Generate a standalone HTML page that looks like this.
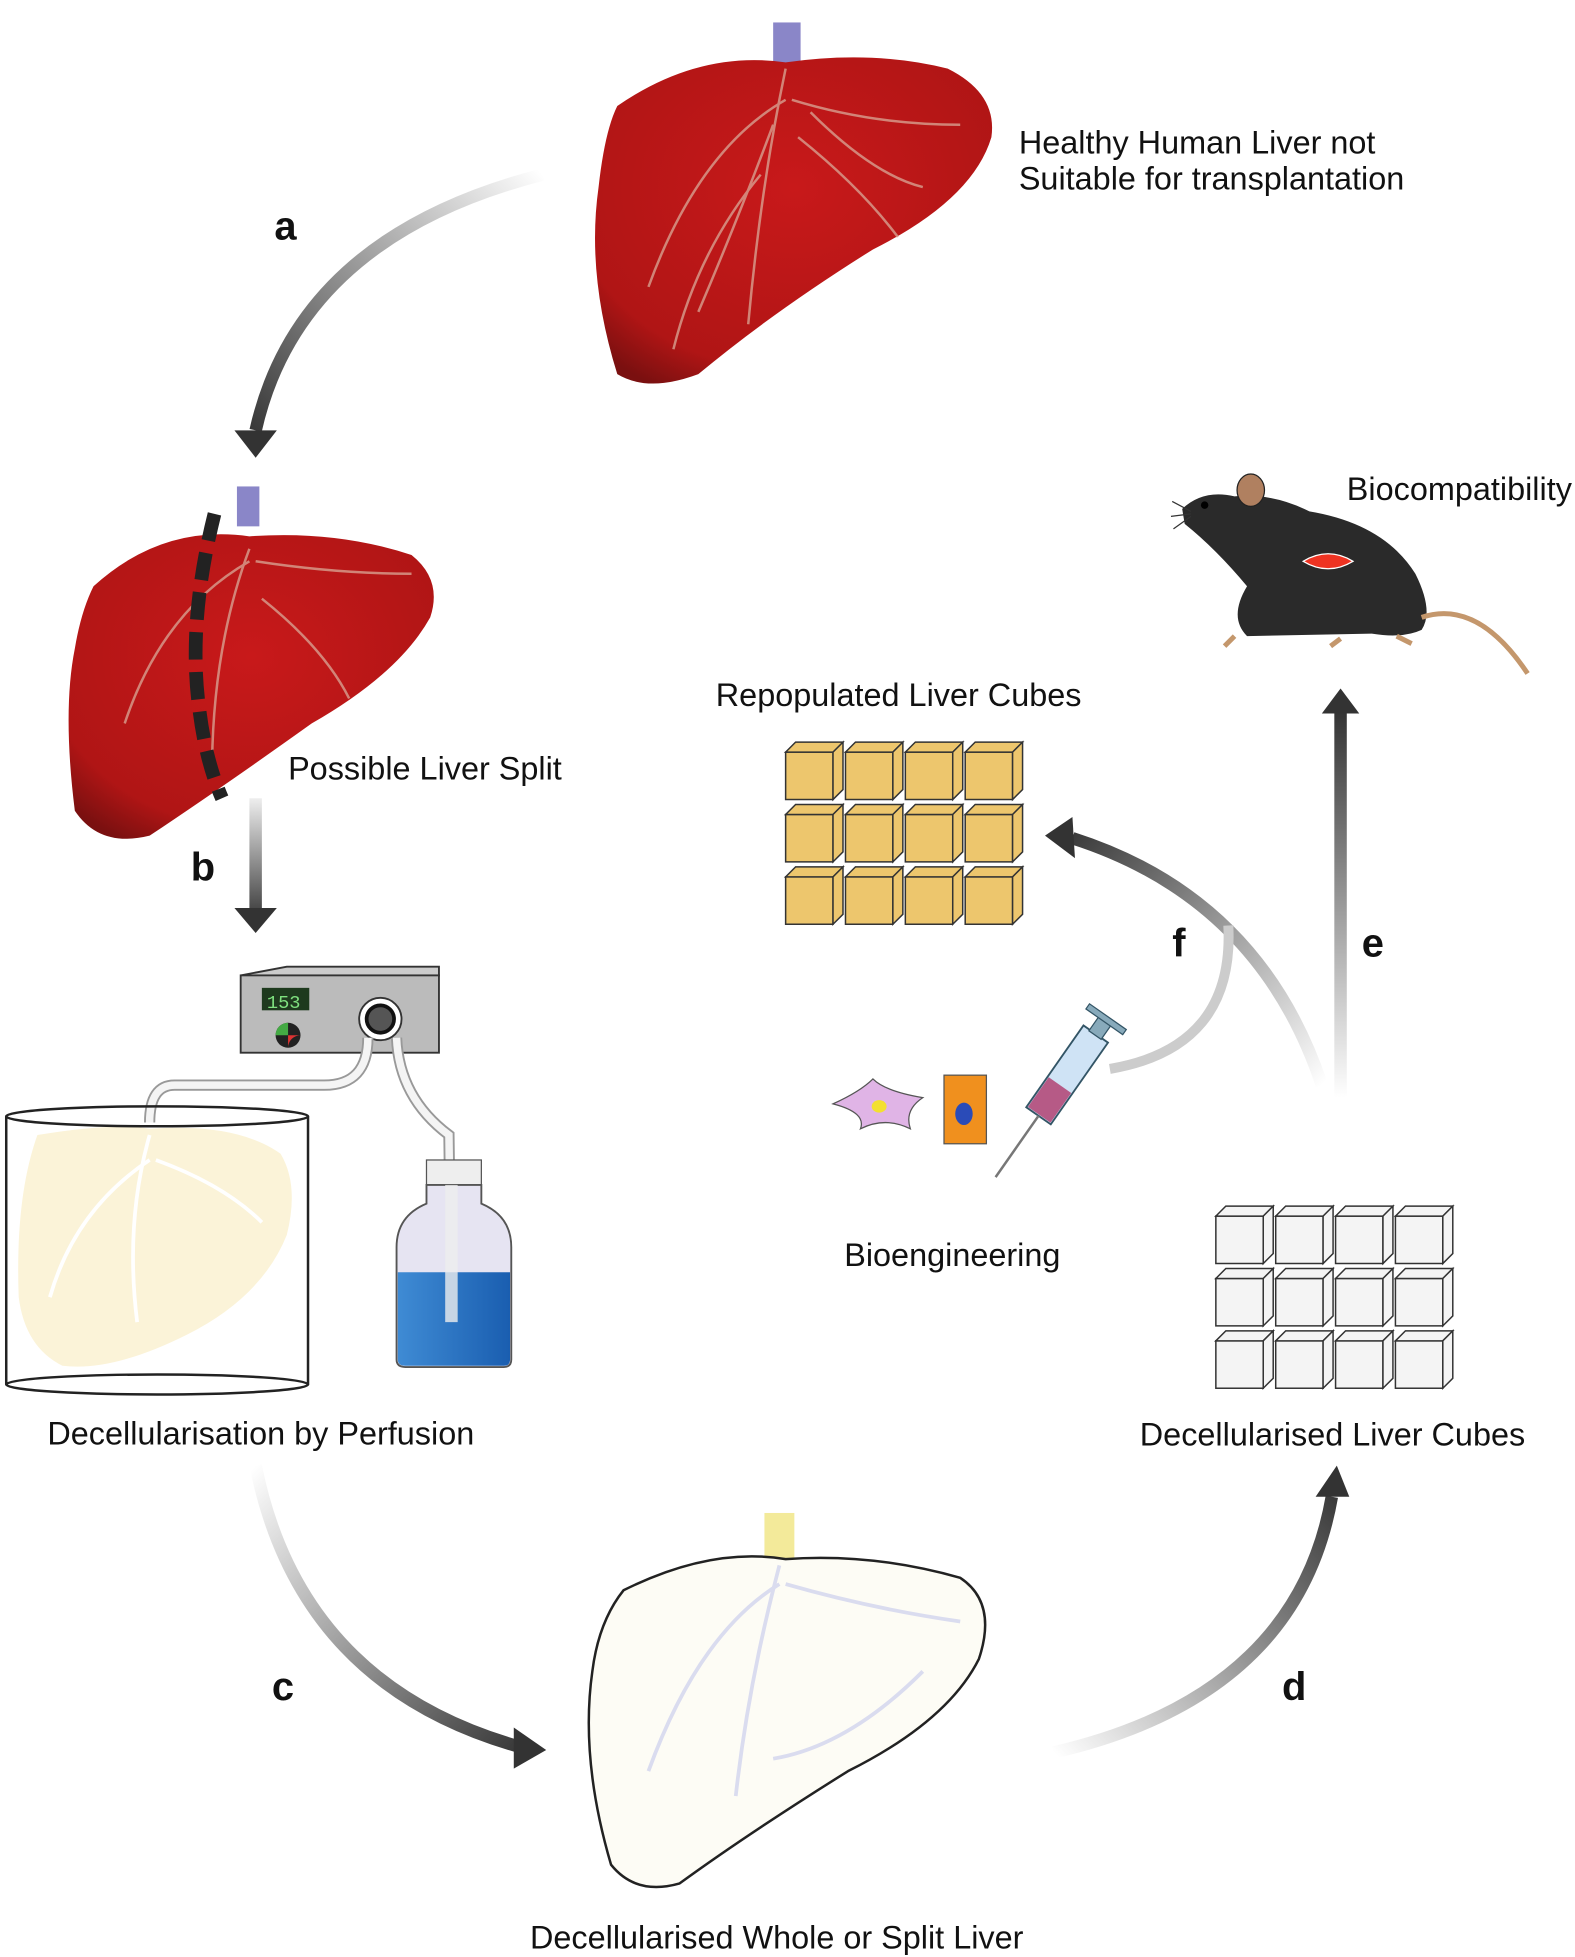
<!DOCTYPE html>
<html><head><style>
html,body{margin:0;padding:0;background:#fff;}
svg{display:block;}
text{font-family:"Liberation Sans",sans-serif;fill:#111;}
.l{font-size:26px;}
.b{font-size:32px;font-weight:bold;}
</style></head><body>
<svg width="1575" height="1957" viewBox="0 0 1263 1569" preserveAspectRatio="none" xmlns="http://www.w3.org/2000/svg">
<defs>
<linearGradient id="ga" x1="435" y1="140" x2="205" y2="360" gradientUnits="userSpaceOnUse"><stop offset="0" stop-color="#fff"/><stop offset="1" stop-color="#333"/></linearGradient>
<linearGradient id="gb" x1="0" y1="640" x2="0" y2="740" gradientUnits="userSpaceOnUse"><stop offset="0" stop-color="#eee"/><stop offset="1" stop-color="#333"/></linearGradient>
<linearGradient id="gc" x1="205" y1="1175" x2="430" y2="1400" gradientUnits="userSpaceOnUse"><stop offset="0" stop-color="#fff"/><stop offset="1" stop-color="#333"/></linearGradient>
<linearGradient id="gd" x1="845" y1="1405" x2="1070" y2="1185" gradientUnits="userSpaceOnUse"><stop offset="0" stop-color="#fff"/><stop offset="1" stop-color="#333"/></linearGradient>
<linearGradient id="ge" x1="0" y1="880" x2="0" y2="570" gradientUnits="userSpaceOnUse"><stop offset="0" stop-color="#fff"/><stop offset="1" stop-color="#333"/></linearGradient>
<linearGradient id="gf" x1="1060" y1="870" x2="850" y2="665" gradientUnits="userSpaceOnUse"><stop offset="0" stop-color="#fff"/><stop offset="1" stop-color="#333"/></linearGradient>
<radialGradient id="red" cx="0.5" cy="0.4" r="0.7"><stop offset="0" stop-color="#c8191a"/><stop offset="0.8" stop-color="#b01515"/><stop offset="1" stop-color="#7a1010"/></radialGradient>
<linearGradient id="blue" x1="0" y1="0" x2="1" y2="0"><stop offset="0" stop-color="#3f8bd4"/><stop offset="1" stop-color="#1a5eb0"/></linearGradient>
</defs>

<!-- top liver -->
<rect x="620" y="18" width="22" height="36" fill="#8a86c8"/>
<path d="M495 85 Q560 40 630 50 Q700 40 760 55 Q800 75 795 110 Q780 160 700 200 Q620 250 560 300 Q520 315 495 300 Q470 220 480 150 Q485 105 495 85Z" fill="url(#red)"/>
<g stroke="#d8a090" stroke-width="2" fill="none" opacity="0.8">
<path d="M630 55 Q610 150 600 260"/><path d="M630 80 Q560 120 520 230"/><path d="M635 80 Q700 100 770 100"/><path d="M610 140 Q560 200 540 280"/><path d="M640 110 Q690 150 720 190"/><path d="M620 100 Q590 180 560 250"/><path d="M650 90 Q700 140 740 150"/>
</g>
<text class="l" x="817" y="123">Healthy Human Liver not</text>
<text class="l" x="817" y="152">Suitable for transplantation</text>

<!-- arrow a -->
<path d="M435 140 Q240 190 205 345" stroke="url(#ga)" stroke-width="10" fill="none"/>
<polygon points="188,345 222,345 205,367" fill="#333"/>
<text class="b" x="220" y="192">a</text>

<!-- second liver -->
<rect x="190" y="390" width="18" height="32" fill="#8a86c8"/>
<path d="M75 470 Q130 420 200 430 Q270 425 330 445 Q355 465 345 495 Q320 540 250 580 Q180 630 120 670 Q80 680 60 650 Q50 570 60 520 Q65 490 75 470Z" fill="url(#red)"/>
<g stroke="#d8a090" stroke-width="2" fill="none" opacity="0.8">
<path d="M200 440 Q170 520 170 620"/><path d="M200 450 Q130 490 100 580"/><path d="M205 450 Q270 460 330 460"/><path d="M210 480 Q260 520 280 560"/>
</g>
<path d="M172 412 Q150 500 160 570 Q165 610 178 640" stroke="#222" stroke-width="11" stroke-dasharray="22 10" fill="none"/>
<text class="l" x="231" y="625">Possible Liver Split</text>

<!-- arrow b -->
<rect x="200" y="640" width="10" height="88" fill="url(#gb)"/>
<polygon points="188,728 222,728 205,748" fill="#333"/>
<text class="b" x="153" y="706">b</text>

<!-- pump -->
<polygon points="193,782 230,775 352,775 352,782" fill="#ccc" stroke="#333" stroke-width="1.5"/>
<rect x="193" y="782" width="159" height="62" fill="#bbb" stroke="#333" stroke-width="1.5"/>
<rect x="210" y="792" width="38" height="18" fill="#1e3a1e"/>
<text x="214" y="808" style="font-size:15px;fill:#7fe07f;font-family:'Liberation Mono',monospace">153</text>
<circle cx="231" cy="830" r="10" fill="#222"/>
<path d="M231 830 L221 830 A10 10 0 0 1 231 820Z" fill="#4a4"/><path d="M231 830 L241 830 A10 10 0 0 0 231 840Z" fill="#d33"/>
<circle cx="305" cy="817" r="17" fill="#fff" stroke="#333" stroke-width="1.5"/>
<circle cx="305" cy="817" r="11" fill="#555" stroke="#111" stroke-width="3"/>
<path d="M295 832 Q295 870 260 870 L140 870 Q120 870 120 900" stroke="#999" stroke-width="9" fill="none"/>
<path d="M295 832 Q295 870 260 870 L140 870 Q120 870 120 900" stroke="#f4f4f4" stroke-width="6" fill="none"/>
<path d="M318 832 Q320 880 360 910 L362 1060" stroke="#999" stroke-width="9" fill="none"/>
<path d="M318 832 Q320 880 360 910 L362 1060" stroke="#f4f4f4" stroke-width="6" fill="none"/>

<!-- beaker -->
<path d="M30 910 Q90 900 120 905 Q190 900 225 925 Q240 950 230 990 Q210 1040 150 1070 Q90 1100 50 1095 Q20 1080 15 1040 Q12 960 30 910Z" fill="#fbf3d8"/>
<g stroke="#fff" stroke-width="3" fill="none"><path d="M120 910 Q100 980 110 1060"/><path d="M120 930 Q60 970 40 1040"/><path d="M125 930 Q180 950 210 980"/></g>
<path d="M5 895 L5 1110 M247 895 L247 1110" stroke="#222" stroke-width="2"/>
<ellipse cx="126" cy="895" rx="121" ry="8" fill="none" stroke="#222" stroke-width="2"/>
<ellipse cx="126" cy="1110" rx="121" ry="8" fill="none" stroke="#222" stroke-width="2"/>

<!-- bottle -->
<rect x="342" y="930" width="44" height="20" fill="#eee" stroke="#555"/>
<path d="M342 950 L342 965 Q318 975 318 1000 L318 1090 Q318 1096 325 1096 L404 1096 Q410 1096 410 1090 L410 1000 Q410 975 386 965 L386 950Z" fill="#e6e4f2" stroke="#555" stroke-width="1.5"/>
<path d="M319 1020 L409 1020 L409 1090 Q409 1095 404 1095 L325 1095 Q319 1095 319 1090Z" fill="url(#blue)"/>
<rect x="357" y="950" width="10" height="110" fill="#eee" opacity="0.8"/>
<text class="l" x="38" y="1158">Decellularisation by Perfusion</text>

<!-- arrow c -->
<path d="M205 1175 Q240 1350 415 1400" stroke="url(#gc)" stroke-width="10" fill="none"/>
<polygon points="412,1385 438,1403 412,1418" fill="#333"/>
<text class="b" x="218" y="1363">c</text>

<!-- bottom liver -->
<rect x="613" y="1213" width="24" height="38" fill="#f3ea9a"/>
<path d="M500 1275 Q570 1240 630 1250 Q700 1245 770 1265 Q800 1285 785 1330 Q760 1380 680 1420 Q600 1470 545 1510 Q510 1520 490 1495 Q465 1410 475 1340 Q480 1300 500 1275Z" fill="#fdfcf5" stroke="#222" stroke-width="2"/>
<g stroke="#dadcef" stroke-width="3" fill="none"><path d="M625 1255 Q600 1350 590 1440"/><path d="M625 1270 Q560 1310 520 1420"/><path d="M630 1270 Q700 1290 770 1300"/><path d="M620 1410 Q680 1400 740 1340"/></g>
<text class="l" x="425" y="1562">Decellularised Whole or Split Liver</text>

<!-- arrow d -->
<path d="M845 1405 Q1040 1360 1068 1200" stroke="url(#gd)" stroke-width="10" fill="none"/>
<polygon points="1055,1200 1082,1200 1072,1175" fill="#333"/>
<text class="b" x="1028" y="1363">d</text>

<!-- decell cubes -->
<g fill="#f4f4f4" stroke="#333" stroke-width="1.2">
<g id="wc"><rect x="975" y="975" width="38" height="38"/><polygon points="975,975 983,967 1021,967 1013,975"/><polygon points="1013,975 1021,967 1021,1005 1013,1013"/></g>
<use href="#wc" x="48"/><use href="#wc" x="96"/><use href="#wc" x="144"/>
<use href="#wc" y="50"/><use href="#wc" x="48" y="50"/><use href="#wc" x="96" y="50"/><use href="#wc" x="144" y="50"/>
<use href="#wc" y="100"/><use href="#wc" x="48" y="100"/><use href="#wc" x="96" y="100"/><use href="#wc" x="144" y="100"/>
</g>
<text class="l" x="914" y="1159">Decellularised Liver Cubes</text>

<!-- arrow e -->
<rect x="1070" y="572" width="10" height="310" fill="url(#ge)"/>
<polygon points="1060,572 1090,572 1075,552" fill="#333"/>
<text class="b" x="1092" y="767">e</text>

<!-- arrow f -->
<path d="M1060 870 Q1010 720 860 672" stroke="url(#gf)" stroke-width="10" fill="none"/>
<polygon points="860,655 838,670 862,688" fill="#333"/>
<path d="M890 857 Q990 840 985 742" stroke="#ccc" stroke-width="8" fill="none"/>
<text class="b" x="940" y="767">f</text>

<!-- yellow cubes -->
<g fill="#edc66d" stroke="#333" stroke-width="1.2">
<g id="yc"><rect x="630" y="603" width="38" height="38"/><polygon points="630,603 638,595 676,595 668,603"/><polygon points="668,603 676,595 676,633 668,641"/></g>
<use href="#yc" x="48"/><use href="#yc" x="96"/><use href="#yc" x="144"/>
<use href="#yc" y="50"/><use href="#yc" x="48" y="50"/><use href="#yc" x="96" y="50"/><use href="#yc" x="144" y="50"/>
<use href="#yc" y="100"/><use href="#yc" x="48" y="100"/><use href="#yc" x="96" y="100"/><use href="#yc" x="144" y="100"/>
</g>
<text class="l" x="574" y="566">Repopulated Liver Cubes</text>

<!-- cells & syringe -->
<path d="M668 885 Q690 875 700 865 Q710 875 740 880 Q725 890 730 905 Q710 895 690 905 Q695 892 668 885Z" fill="#e0b4e6" stroke="#555"/>
<ellipse cx="705" cy="887" rx="6" ry="5" fill="#f3e02f"/>
<rect x="757" y="862" width="34" height="55" fill="#f0901e" stroke="#555"/>
<ellipse cx="773" cy="893" rx="7" ry="9" fill="#2a4bb8"/>
<g transform="rotate(35 850 870)">
<rect x="838" y="820" width="24" height="80" fill="#cfe3f5" stroke="#356" stroke-width="1.5"/>
<rect x="839" y="870" width="22" height="29" fill="#b65a86"/>
<rect x="844" y="805" width="12" height="16" fill="#8ab" stroke="#356"/>
<rect x="832" y="803" width="36" height="5" fill="#8ab" stroke="#356"/>
<line x1="850" y1="900" x2="850" y2="960" stroke="#777" stroke-width="2"/>
</g>
<text class="l" x="677" y="1015">Bioengineering</text>

<!-- mouse -->
<path d="M948 408 Q965 392 990 398 Q1020 395 1050 410 Q1110 420 1135 460 Q1150 490 1140 505 Q1125 512 1100 508 L1000 510 Q985 495 1000 470 Q975 440 950 420Z" fill="#2a2a2a"/>
<ellipse cx="1003" cy="393" rx="11" ry="13" fill="#b08060" stroke="#222"/>
<circle cx="966" cy="405" r="3" fill="#000"/>
<g stroke="#333" stroke-width="1"><path d="M955 410 l-15 -8 M955 412 l-16 2 M955 414 l-14 10"/></g>
<path d="M1140 495 Q1185 480 1225 540" stroke="#c4976c" stroke-width="4" fill="none"/>
<path d="M1045 450 Q1065 438 1085 450 Q1065 462 1045 450Z" fill="#e32" stroke="#fff"/>
<path d="M990 510 l-8 8 M1075 512 l-8 6 M1120 510 l12 6" stroke="#c4976c" stroke-width="4"/>
<text class="l" x="1080" y="401">Biocompatibility</text>
</svg>
</body></html>
